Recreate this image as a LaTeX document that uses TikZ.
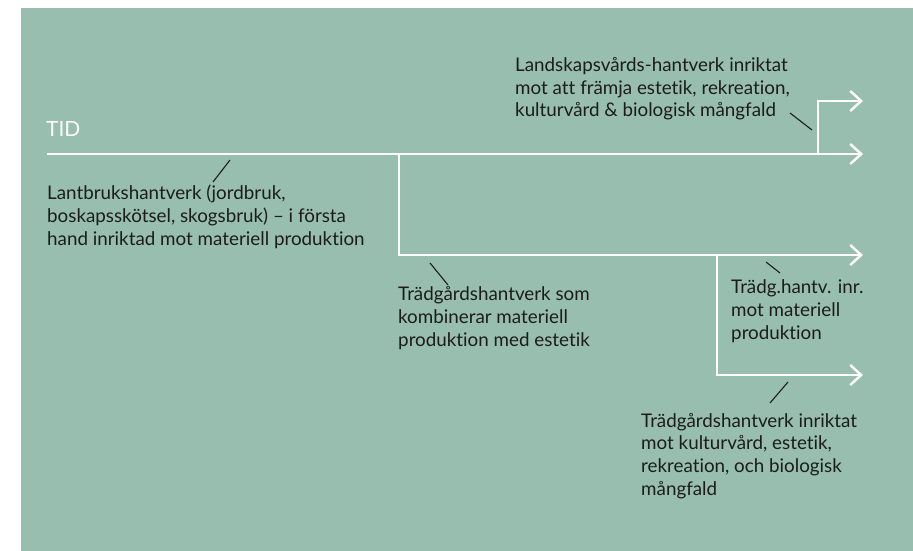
\documentclass[tikz,border=0pt]{standalone}
\usepackage{fontspec}
\setmainfont{Lato}[Ligatures={NoCommon}]
\usetikzlibrary{arrows.meta}

\definecolor{sage}{HTML}{98BEAF}
\definecolor{ink}{HTML}{1C1C1C}

\begin{document}
\begin{tikzpicture}[x=1pt, y=-1pt,
	flow/.style={draw=white, line width=2.4pt, line join=miter,
		-{Straight Barb[length=11pt, width=20pt, line width=2.4pt]}},
	note/.style={anchor=base west, align=left, inner sep=0pt, text=ink,
		font=\fontsize{18.8}{22.6}\selectfont},
	leader/.style={draw=ink, line width=1.1pt}]
	\useasboundingbox (0,0) rectangle (913,551);
	\fill[sage] (21,8) rectangle (913,551);

	\node[anchor=base west, inner sep=0pt, text=white, font=\fontsize{21}{24}\selectfont] (tid) at (46,136) {TID};

	% time line and branches
	\coordinate (t0) at (47,154);
	\coordinate (b1) at (399,154);
	\coordinate (b2) at (818,154);
	\coordinate (b3) at (717,255);
	\coordinate (e0) at (863,154);
	\coordinate (e1) at (863,101);
	\coordinate (e2) at (863,255);
	\coordinate (e3) at (863,375);

	\draw[flow] (t0) -- (e0);
	\foreach \from/\to in {b2/e1, b1/e2, b3/e3}
		\draw[flow] (\from) |- (\to);

	% texts (placed at the baseline of their last line)
	\node[note] (lantbruk) at (47,245) {Lantbrukshantverk (jordbruk,\\ boskapsskötsel, skogsbruk) – i första\\ hand inriktad mot materiell produktion};
	\node[note] (landskap) at (515,117) {Landskapsvårds-hantverk inriktat\\ mot att främja estetik, rekreation,\\ kulturvård \& biologisk mångfald};
	\node[note] (kombi) at (398,346) {Trädgårdshantverk som\\ kombinerar materiell\\ produktion med estetik};
	\node[note] (materiell) at (731,339) {Trädg.hantv. inr.\\ mot materiell\\ produktion};
	\node[note] (kultur) at (641,495) {Trädgårdshantverk inriktat\\ mot kulturvård, estetik,\\ rekreation, och biologisk\\ mångfald};

	% leaders
	\coordinate (lantbruk-a) at (230,160);
	\coordinate (lantbruk-b) at (213,182);
	\coordinate (landskap-a) at (790,113);
	\coordinate (landskap-b) at (812,130);
	\coordinate (kombi-a) at (430,263);
	\coordinate (kombi-b) at (448,285);
	\coordinate (materiell-a) at (766,262);
	\coordinate (materiell-b) at (780,273);
	\coordinate (kultur-a) at (788,382);
	\coordinate (kultur-b) at (770,403);
	\foreach \n in {lantbruk, landskap, kombi, materiell, kultur}
		\draw[leader] (\n-a) -- (\n-b);
\end{tikzpicture}
\end{document}
